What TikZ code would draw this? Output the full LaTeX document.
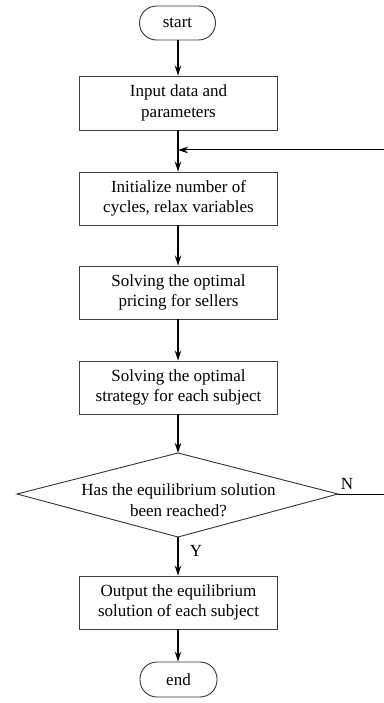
\documentclass[tikz,border=0pt]{standalone}
\usepackage{fontspec}
\setmainfont{Liberation Serif}
\usetikzlibrary{arrows.meta}
\begin{document}
\begin{tikzpicture}[x=1pt,y=-1pt,
  txt/.style={font=\fontsize{17}{20.5}\selectfont, align=center, inner sep=0pt},
  box/.style={txt, draw=black!75, line width=0.9pt, minimum width=198pt, minimum height=53pt},
  term/.style={txt, draw=black!80, line width=0.9pt, rounded corners=17pt, minimum width=76pt, minimum height=34pt},
  conn/.style={line width=1.4pt, -{Stealth[length=10pt,width=6.5pt]}},
  fb/.style={line width=1pt}]
\useasboundingbox (0,0) rectangle (383,703);
\node[term] (start) at (177.5,23) {start};
\node[box, minimum height=54pt] (in) at (178.5,103) {Input data and\\parameters};
\node[box] (init) at (178.5,198.5) {Initialize number of\\cycles, relax variables};
\node[box] (price) at (178.5,292.5) {Solving the optimal\\pricing for sellers};
\node[box] (strat) at (178.5,387.5) {Solving the optimal\\strategy for each subject};
\coordinate (dtop) at (178,453);
\coordinate (dright) at (338,494);
\coordinate (dbot) at (178,537);
\coordinate (dleft) at (17,494);
\draw[line width=0.9pt, draw=black!80] (dtop) -- (dright) -- (dbot) -- (dleft) -- cycle;
\node[txt] (dtext) at (178.5,500) {Has the equilibrium solution\\been reached?};
\node[box] (out) at (178.5,602.5) {Output the equilibrium\\solution of each subject};
\node[term, minimum width=77pt, minimum height=35pt] (end) at (178.5,679.5) {end};
\node[txt] (ylab) at (196,551) {Y};
\node[txt] (nlab) at (347,484) {N};
\coordinate (fbR) at (386,494);
\coordinate (fbT) at (386,150);
\coordinate (merge) at (178,150);
\draw[conn] (start.south -| dtop) -- (in.north -| dtop);
\draw[conn] (in.south -| dtop) -- (init.north -| dtop);
\draw[conn] (init.south -| dtop) -- (price.north -| dtop);
\draw[conn] (price.south -| dtop) -- (strat.north -| dtop);
\draw[conn] (strat.south -| dtop) -- (dtop);
\draw[conn] (dbot) -- (out.north -| dtop);
\draw[conn] (out.south -| dtop) -- (end.north -| dtop);
\draw[fb, -{Stealth[length=10pt,width=6.5pt]}] (dright) -- (fbR) -- (fbT) -- (merge);
\end{tikzpicture}
\end{document}
